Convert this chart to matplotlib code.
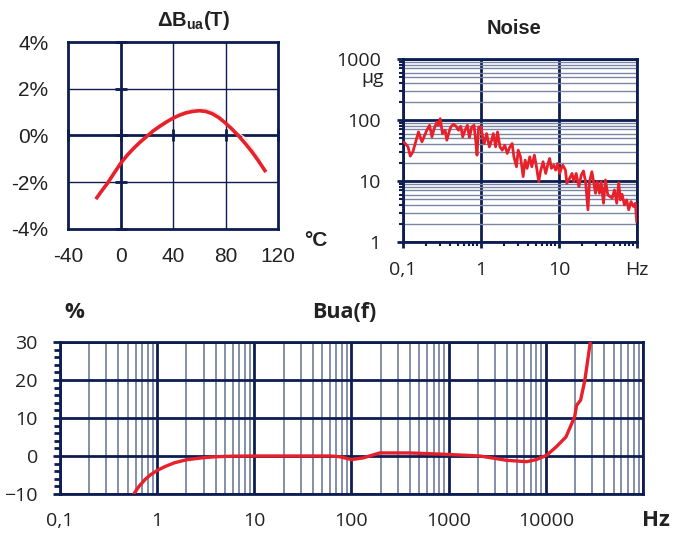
import matplotlib
matplotlib.use("Agg")
import matplotlib.pyplot as plt
from matplotlib.ticker import FixedLocator, MultipleLocator, NullFormatter

# ==========================================
# Data
# ==========================================

# temperature drift dB_ua(T)
temp_c = [-18, -15, -10, -5, 0, 5, 10, 15, 20, 25, 30, 35, 40, 45, 50,
          55, 60, 65, 70, 75, 80, 85, 90, 95, 100, 105, 110]
drift_pct = [-2.66, -2.42, -2.05, -1.62, -1.2, -0.85, -0.55, -0.28, -0.04, 0.2, 0.4, 0.58, 0.74, 0.87, 0.97,
             1.03, 1.06, 1.03, 0.93, 0.76, 0.53, 0.27, -0.02, -0.34, -0.69, -1.08, -1.5]

# faint raw measurement behind the fitted curve
raw_temp_c = [20, 25, 30, 35, 40, 45, 50, 55, 60, 65, 70, 75, 80, 85, 90, 95, 100, 105, 110]
raw_pct = [-0.05, 0.17, 0.3, 0.5, 0.72, 0.95, 1.05, 1.15, 1.1, 1.15, 1.05, 0.9, 0.5, 0.2, 0.1, -0.1, -0.5, -0.9, -1.6]

# noise spectrum (Hz, ug)
noise_hz = [0.104, 0.116, 0.124, 0.134, 0.158, 0.175, 0.202, 0.219, 0.235, 0.251,
            0.272, 0.285, 0.300, 0.321, 0.347, 0.365, 0.390, 0.410, 0.444, 0.480,
            0.514, 0.550, 0.583, 0.625, 0.670, 0.710, 0.760, 0.814, 0.855, 0.889,
            0.934, 1.0, 1.05, 1.10, 1.18, 1.28, 1.37, 1.44, 1.54, 1.63,
            1.75, 1.87, 2.02, 2.17, 2.35, 2.51, 2.64, 2.85, 3.00, 3.21,
            3.47, 3.68, 3.90, 4.22, 4.48, 4.84, 5.14, 5.50, 5.78, 6.25,
            6.76, 7.24, 7.60, 7.98, 8.55, 9.06, 9.61, 10.2, 10.7, 11.2,
            12.1, 12.6, 13.7, 14.7, 15.5, 16.6, 18.0, 19.3, 20.6, 21.9,
            23.5, 24.6, 26.4, 28.0, 29.4, 30.9, 33.0, 34.7, 37.2, 39.4,
            42.2, 45.2, 48.0, 51.4, 55.0, 58.3, 61.3, 64.4, 68.9, 73.8,
            78.3, 83.8, 89.8, 95.2, 99.0]
noise_ug = [42.7, 36.3, 25.6, 30.1, 63.7, 43.8, 67.9, 81.9, 52.8, 72.2,
            92.8, 81.9, 105, 59.9, 67.9, 46.6, 63.7, 76.9, 85.0, 78.8,
            67.9, 78.8, 52.8, 67.9, 81.9, 51.5, 76.9, 81.9, 46.6, 26.5,
            76.9, 76.9, 52.8, 41.1, 59.9, 36.3, 46.6, 59.9, 36.3, 63.7,
            36.3, 32.0, 38.6, 28.3, 36.3, 41.1, 24.9, 17.1, 32.0, 24.9,
            11.8, 22.0, 16.1, 24.9, 17.1, 26.5, 17.1, 9.75, 14.2, 20.7,
            13.3, 19.4, 23.4, 16.1, 18.2, 15.1, 19.4, 13.3, 16.1, 18.2,
            15.1, 9.16, 11.1, 13.3, 9.75, 13.3, 8.09, 12.5, 14.6, 9.75,
            3.37, 9.75, 14.2, 9.16, 6.29, 9.75, 6.29, 9.75, 4.32, 10.4,
            5.91, 5.55, 5.22, 7.13, 4.32, 9.39, 4.90, 6.06, 4.06, 4.90,
            3.37, 4.60, 3.82, 4.32, 2.17]

# frequency response Bua(f)
resp_hz = [0.575, 0.65, 0.75, 0.85, 1.0, 1.2, 1.5, 2.0, 3.0, 4.0, 6.0, 10, 60, 76, 100,
           132, 195, 398, 813, 2090, 3950, 6340, 7980, 10200, 12800, 16100, 19800,
           20700, 22800, 25200, 28700]
resp_pct = [-10, -8.0, -6.2, -5.0, -3.8, -2.8, -1.8, -1.0, -0.45, -0.2, -0.05, 0, 0, -0.2, -0.95,
            -0.5, 0.8, 0.8, 0.5, 0, -1.14, -1.5, -0.95, 0.2, 2.4, 5.0, 10.3,
            13.3, 14.7, 19.9, 30]

temp_ticks = [-40, 0, 40, 80, 120]
drift_ticks = [-4, -2, 0, 2, 4]
noise_xticks = [0.1, 1, 10, 100]
noise_xlabels = ["0,1", "1", "10", "Hz"]
noise_yticks = [1, 10, 100, 1000]
noise_ylabels = ["1", "10", "100", "1000"]
resp_xticks = [0.1, 1, 10, 100, 1000, 10000]
resp_xlabels = ["0,1", "1", "10", "100", "1000", "10000"]
resp_yticks = [-10, 0, 10, 20, 30]

# ==========================================
# Style
# ==========================================

NAVY = "#0d1d52"
SLATE = "#7a86a3"
RED = "#e8202a"
TXT = "#222222"

plt.rcParams["mathtext.fontset"] = "custom"
plt.rcParams["mathtext.rm"] = "Liberation Sans"
plt.rcParams["mathtext.bf"] = "Liberation Sans:bold"

fig = plt.figure(figsize=(6.74, 5.33), dpi=100)

def frame(ax, lw=2.0):
    for s in ax.spines.values():
        s.set_color(NAVY)
        s.set_linewidth(lw)

# ==========================================
# Top left: temperature drift
# ==========================================

ax1 = fig.add_axes([0.1009, 0.5704, 0.3116, 0.3508])
ax1.plot(raw_temp_c, raw_pct, color="#e4e4e4", lw=1.0, zorder=2)
ax1.plot(temp_c, drift_pct, color=RED, lw=2.6, zorder=4, solid_joinstyle="round")
ax1.set_xlim(-40, 120)
ax1.set_ylim(-4, 4)
ax1.set_xticks(temp_ticks)
ax1.set_yticks(drift_ticks)
ax1.set_xticklabels([str(t) for t in temp_ticks])
ax1.set_yticklabels([f"{t}%" for t in drift_ticks])
ax1.tick_params(axis="x", length=0, pad=13, labelsize=15, labelcolor=TXT)
ax1.tick_params(axis="y", length=0, pad=14, labelsize=15, labelcolor=TXT)
for lab in ax1.get_xticklabels() + ax1.get_yticklabels():
    lab.set_family("Liberation Sans")
for t in temp_ticks[1:-1]:
    ax1.axvline(t, color=NAVY, lw=2.0 if t == 0 else 1.0, zorder=1)
for t in drift_ticks[1:-1]:
    ax1.axhline(t, color=NAVY, lw=2.0 if t == 0 else 1.0, zorder=1)
# small cross marks on the zero axes
ax1.plot([0] * 5, drift_ticks, ls="none", marker="_", ms=9, mew=2, color=NAVY, zorder=3, clip_on=False)
ax1.plot(temp_ticks, [0] * 5, ls="none", marker="|", ms=9, mew=2, color=NAVY, zorder=3, clip_on=False)
frame(ax1)
fig.text(193 / 674, 1 - 20 / 533, r"$\mathbf{\Delta B_{ua}(T)}$", ha="center", va="center",
         fontsize=14.5, color=TXT)
fig.text(316 / 674, 1 - 241 / 533, "°C", ha="center", va="center", fontsize=15,
         fontweight="bold", family="Liberation Sans", color=TXT)

# ==========================================
# Top right: noise
# ==========================================

ax2 = fig.add_axes([0.5979, 0.546, 0.3472, 0.3433])
ax2.plot(noise_hz, noise_ug, color=RED, lw=2.0, zorder=4)
ax2.set_xscale("log")
ax2.set_yscale("log")
ax2.set_xlim(0.1, 100)
ax2.set_ylim(1, 1000)
ax2.xaxis.set_major_locator(FixedLocator(noise_xticks))
ax2.yaxis.set_major_locator(FixedLocator(noise_yticks))
ax2.set_xticklabels(noise_xlabels)
ax2.set_yticklabels(noise_ylabels)
ax2.xaxis.set_minor_formatter(NullFormatter())
ax2.yaxis.set_minor_formatter(NullFormatter())
ax2.grid(which="major", color=NAVY, lw=2.0)
ax2.grid(which="minor", axis="y", color=SLATE, lw=1.0)
ax2.grid(which="minor", axis="x", visible=False)
ax2.tick_params(which="major", direction="out", length=4, width=2, color=NAVY,
                labelsize=14, labelcolor=TXT)
ax2.tick_params(which="major", axis="y", pad=12)
ax2.tick_params(which="major", axis="x", pad=10)
ax2.tick_params(which="minor", direction="out", length=3, width=1.5, color=NAVY)
ax2.set_axisbelow(True)
for lab in ax2.get_xticklabels() + ax2.get_yticklabels():
    lab.set_family("Open Sans")
frame(ax2)
fig.text(514 / 674, 1 - 28 / 533, "Noise", ha="center", va="center", fontsize=14.5,
         fontweight="bold", family="Liberation Sans", color=TXT)
fig.text(384 / 674, 1 - 78 / 533, "µg", ha="right", va="center", fontsize=14,
         family="Open Sans", color=TXT)

# ==========================================
# Bottom: frequency response
# ==========================================

ax3 = fig.add_axes([0.089, 0.0732, 0.865, 0.2852])
ax3.plot(resp_hz, resp_pct, color=RED, lw=2.4, zorder=4, solid_joinstyle="round")
ax3.set_xscale("log")
ax3.set_xlim(0.1, 100000)
ax3.set_ylim(-10, 30)
ax3.xaxis.set_major_locator(FixedLocator(resp_xticks + [100000]))
ax3.set_xticklabels(resp_xlabels + [""])
ax3.xaxis.set_minor_formatter(NullFormatter())
ax3.set_yticks(resp_yticks)
ax3.yaxis.set_minor_locator(MultipleLocator(2))
ax3.grid(which="major", color=NAVY, lw=2.0)
ax3.grid(which="minor", axis="x", color=SLATE, lw=1.3)
ax3.tick_params(which="major", axis="y", direction="out", length=5, width=2, color=NAVY, pad=11)
ax3.tick_params(which="minor", axis="y", direction="out", length=4, width=2, color=NAVY)
ax3.tick_params(axis="x", which="both", length=0, pad=13)
ax3.tick_params(labelsize=14, labelcolor=TXT)
ax3.set_axisbelow(True)
for lab in ax3.get_xticklabels() + ax3.get_yticklabels():
    lab.set_family("Open Sans")
frame(ax3)
fig.text(74 / 674, 1 - 313 / 533, "%", ha="center", va="center", fontsize=16,
         fontweight="bold", family="Open Sans", color=TXT)
fig.text(344 / 674, 1 - 313 / 533, "Bua(f)", ha="center", va="center", fontsize=15.5,
         fontweight="bold", family="Open Sans", color=TXT)
fig.text(656 / 674, 1 - 521 / 533, "Hz", ha="center", va="center", fontsize=16,
         fontweight="bold", family="Open Sans", color=TXT)

plt.savefig("out.png", dpi=100)
plt.close()
